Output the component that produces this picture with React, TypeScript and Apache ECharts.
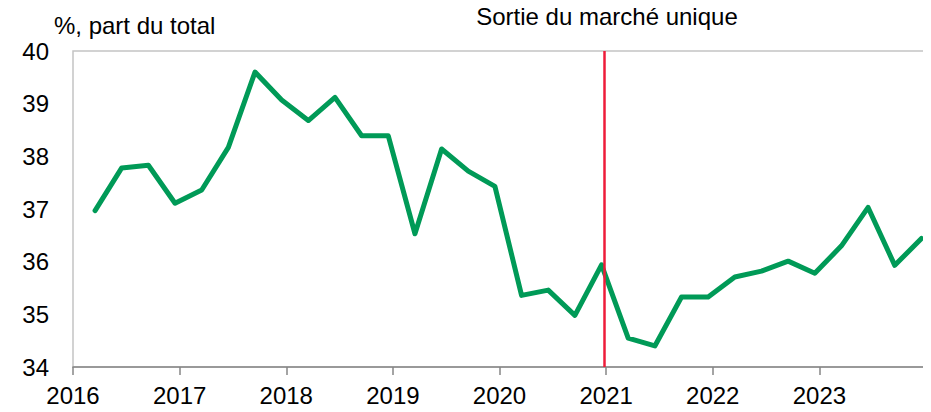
import React, { useEffect, useRef } from "react";
import * as echarts from "echarts";

const quarters = [
  "2016T1", "2016T2", "2016T3", "2016T4",
  "2017T1", "2017T2", "2017T3", "2017T4",
  "2018T1", "2018T2", "2018T3", "2018T4",
  "2019T1", "2019T2", "2019T3", "2019T4",
  "2020T1", "2020T2", "2020T3", "2020T4",
  "2021T1", "2021T2", "2021T3", "2021T4",
  "2022T1", "2022T2", "2022T3", "2022T4",
  "2023T1", "2023T2", "2023T3", "2023T4",
];

const shareValues = [
  36.97, 37.78, 37.83, 37.11,
  37.36, 38.17, 39.6, 39.07,
  38.68, 39.12, 38.39, 38.39,
  36.53, 38.14, 37.72, 37.43,
  35.36, 35.46, 34.98, 35.94,
  34.55, 34.4, 35.33, 35.33,
  35.71, 35.82, 36.01, 35.78,
  36.3, 37.03, 35.93, 36.44,
];

const yearTicks = [2016, 2017, 2018, 2019, 2020, 2021, 2022, 2023, 2024];
const exitDate = 2020.985;
const yTitle = "%, part du total";
const exitLabel = "Sortie du marché unique";

function quarterToX(q: string): number {
  const year = parseInt(q.slice(0, 4), 10);
  const qi = parseInt(q.slice(5), 10);
  return year + (qi - 1) * 0.25 + 0.207;
}

export default function App() {
  const ref = useRef<HTMLDivElement>(null);

  useEffect(() => {
    if (!ref.current) return;
    const chart = echarts.init(ref.current, null, { renderer: "svg" });
    const font = "'Liberation Sans', Arial, sans-serif";
    chart.setOption({
      animation: false,
      backgroundColor: "#ffffff",
      grid: {
        left: 73,
        right: 5,
        top: 51,
        bottom: 45,
        show: true,
        borderColor: "#c4c4c4",
        borderWidth: 1.5,
        backgroundColor: "transparent",
      },
      graphic: [
        {
          type: "text",
          left: 54,
          top: 13,
          style: { text: yTitle, font: `24px ${font}`, fill: "#000" },
        },
        {
          type: "text",
          x: 607,
          y: 4,
          style: {
            text: exitLabel,
            font: `24px ${font}`,
            fill: "#000",
            textAlign: "center",
          },
        },
      ],
      xAxis: {
        type: "value",
        min: 2016,
        max: 2024,
        interval: 1,
        axisLine: { show: true, lineStyle: { color: "#868686", width: 1.5 } },
        axisTick: { show: true, inside: false, length: 8, lineStyle: { color: "#868686", width: 1.5 } },
        splitLine: { show: false },
        axisLabel: {
          color: "#000",
          fontSize: 24,
          fontFamily: font,
          margin: 16,
          formatter: (v: number) => (v === yearTicks[yearTicks.length - 1] ? "" : String(v)),
        },
      },
      yAxis: {
        type: "value",
        min: 34,
        max: 40,
        interval: 1,
        axisLine: { show: false },
        axisTick: { show: false },
        splitLine: { show: false },
        axisLabel: { color: "#000", fontSize: 24, fontFamily: font, margin: 24 },
      },
      series: [
        {
          type: "line",
          data: quarters.map((q, i) => [quarterToX(q), shareValues[i]]),
          showSymbol: false,
          symbol: "none",
          lineStyle: { color: "#009A57", width: 5, join: "round", cap: "round" },
          z: 3,
          markLine: {
            silent: true,
            symbol: "none",
            label: { show: false },
            lineStyle: { color: "#EE1C3A", width: 2.5, type: "solid" },
            data: [{ xAxis: exitDate }],
            z: 4,
          },
        },
      ],
    });
    return () => chart.dispose();
  }, []);

  return <div ref={ref} style={{ width: 931, height: 412, margin: -8 }} />;
}
